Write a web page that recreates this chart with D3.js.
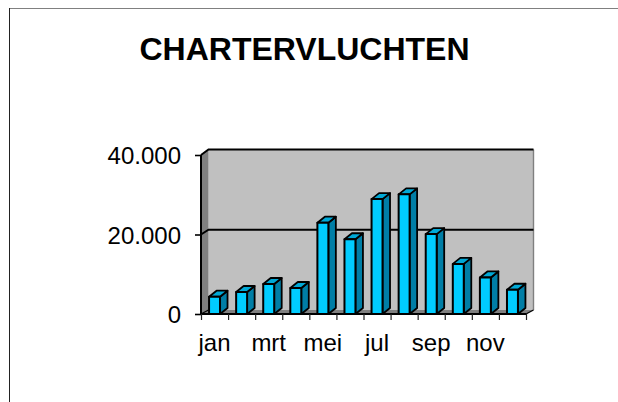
<!DOCTYPE html>
<html><head><meta charset="utf-8">
<script src="https://cdn.jsdelivr.net/npm/d3@7"></script>
<style>html,body{margin:0;padding:0;background:#fff}svg{display:block}text{font-family:"Liberation Sans",Arial,sans-serif;fill:#000}</style>
</head><body><svg id="c" width="618" height="402"></svg>
<script>
const months=["jan","feb","mrt","apr","mei","jun","jul","aug","sep","okt","nov","dec"];
const shownLabels=["jan","mrt","mei","jul","sep","nov"];
const flights=[4350,5530,7550,6540,22970,18800,28900,30100,20100,12600,9200,6100];
const yTicks=[0,20000,40000];
const title="CHARTERVLUCHTEN";
const svg=d3.select("#c");
const x=d3.scaleBand().domain(months).range([201,526]).paddingInner(0.595).paddingOuter(0.2975);
const y=d3.scaleLinear().domain([0,40000]).range([314,155]);
const yBack=d3.scaleLinear().domain([0,40000]).range([310,149.5]);
const dx=7.5,dy=-6;
const fmt=v=>d3.format(",")(v).replace(/,/g,".");
const poly=(pts,fill,stroke,sw)=>svg.append("polygon").attr("points",pts.map(p=>p.join(",")).join(" ")).attr("fill",fill).attr("stroke",stroke||"none").attr("stroke-width",sw||0).attr("stroke-linejoin","round");
const [x0,x1]=x.range(),y0=y(0),yT=y(40000),by0=yBack(0),byT=yBack(40000);
svg.append("line").attr("x1",9).attr("y1",8.5).attr("x2",618).attr("y2",8.5).attr("stroke","#808080");
svg.append("line").attr("x1",9.5).attr("y1",8).attr("x2",9.5).attr("y2",402).attr("stroke","#222");
poly([[x0+dx,byT],[x1+dx,byT],[x1+dx,by0],[x0+dx,by0]],"#c0c0c0");
poly([[x0,yT],[x0+dx,byT],[x0+dx,by0],[x0,y0]],"#808080");
poly([[x0,y0],[x0+dx,by0],[x1+dx,by0],[x1,y0]],"#808080");
svg.append("line").attr("x1",x1+dx).attr("x2",x1+dx).attr("y1",byT).attr("y2",by0).attr("stroke","#808080").attr("stroke-width",1.4);
yTicks.filter(v=>v>0).forEach(v=>{
  svg.append("polyline").attr("points",`${x0},${y(v)} ${x0+dx},${yBack(v)} ${x1+dx},${yBack(v)}`).attr("fill","none").attr("stroke","#000").attr("stroke-width",2);
});
svg.append("line").attr("x1",x0).attr("x2",x0+dx).attr("y1",y0).attr("y2",by0).attr("stroke","#000").attr("stroke-width",1.4);
svg.append("line").attr("x1",x1).attr("x2",x1+dx).attr("y1",y0).attr("y2",by0).attr("stroke","#000").attr("stroke-width",1.4);
const w=x.bandwidth();
months.forEach((m,i)=>{
  const l=x(m),r=l+w,t=y(flights[i]);
  poly([[r,t],[r+dx,t+dy],[r+dx,y0+dy],[r,y0]],"#007ea6","#000",1.8);
  poly([[l,t],[l+dx,t+dy],[r+dx,t+dy],[r,t]],"#00a8d6","#000",1.8);
  poly([[l,t],[r,t],[r,y0],[l,y0]],"#00ccff","#000",2);
});
const yAxis=d3.axisLeft(y).tickValues(yTicks).tickFormat(fmt).tickSize(6).tickPadding(14);
const gy=svg.append("g").attr("transform",`translate(${x0},0)`).call(yAxis);
gy.selectAll("text").attr("font-size",24).attr("y",1).style("font-family",'"Liberation Sans",Arial,sans-serif');
gy.selectAll("line").attr("stroke","#000").attr("stroke-width",1.6);
gy.select(".domain").attr("d",`M0,${yT}V${y0}`).attr("stroke","#000").attr("stroke-width",2);
const xTickScale=d3.scaleLinear().domain([0,months.length]).range([x0,x1]);
const gx=svg.append("g").attr("transform",`translate(0,${y0})`).call(d3.axisBottom(xTickScale).tickValues(d3.range(months.length+1)).tickFormat("").tickSize(6));
gx.selectAll("line").attr("stroke","#222").attr("stroke-width",1.2);
gx.select(".domain").attr("d",`M${x0},0H${x1}`).attr("stroke","#000").attr("stroke-width",2);
svg.append("g").selectAll("text").data(shownLabels).join("text")
  .attr("x",d=>x(d)+w/2).attr("y",351).attr("text-anchor","middle").attr("font-size",24).text(d=>d);
svg.append("text").attr("x",304.5).attr("y",60).attr("text-anchor","middle").attr("font-size",32).attr("font-weight","bold").text(title);
</script></body></html>
